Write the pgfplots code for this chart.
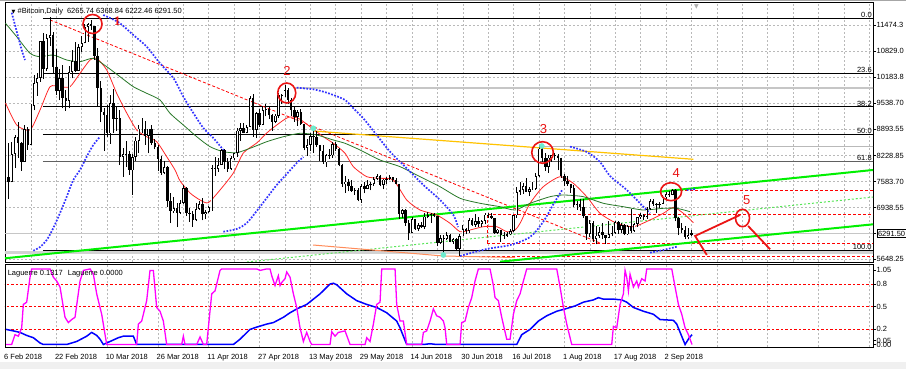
\documentclass[border=0pt]{standalone}
\usepackage{fontspec}
\setmainfont{Liberation Sans}
\newfontfamily\dejavu{DejaVu Sans}
\newfontfamily\serifnum{Liberation Serif}
\usepackage{pgfplots}
\usepackage{pgfplotstable}
\pgfplotsset{compat=1.18}

\definecolor{sarblue}{RGB}{50,50,255}
\definecolor{maRed}{RGB}{255,40,40}
\definecolor{maGreen}{RGB}{40,120,40}
\definecolor{limeg}{RGB}{0,240,0}
\definecolor{ltgreen}{RGB}{90,230,90}
\definecolor{goldl}{RGB}{255,195,0}
\definecolor{salmonl}{RGB}{255,140,90}
\definecolor{tealdot}{RGB}{110,235,205}
\definecolor{mag}{RGB}{255,0,255}
\definecolor{gridgray}{RGB}{185,185,185}
\definecolor{annred}{RGB}{235,20,20}

\pgfplotstableread{
d o h l c
1 7700 8550 7150 7580
2 7580 8560 7560 8260
3 8260 8740 7930 8690
4 8690 9070 8170 8550
5 8550 8560 7850 8070
6 8070 8990 8070 8890
7 8890 8930 8370 8500
8 8500 9500 8500 9470
9 9470 10230 9350 10030
10 10030 10290 9720 10160
11 10160 11080 10060 11080
12 11080 11280 10130 10380
13 10380 11250 10330 11150
14 11150 11680 10950 11220
15 11220 11300 10250 10440
16 10440 10880 9740 9830
17 9830 10380 9600 10160
18 10160 10490 9400 9670
19 9670 9850 9340 9590
20 9590 10450 9400 10310
21 10310 10860 10150 10570
22 10570 11050 10300 10330
23 10330 11000 10330 10920
24 10920 11200 10800 11020
25 11020 11500 11020 11430
26 11430 11520 11060 11500
27 11500 11600 11360 11450
28 11450 11450 10600 10710
29 10710 10900 9450 9900
30 9900 10080 9060 9300
31 9300 9420 8350 9230
32 9230 9480 8700 8780
33 8780 9730 8520 9530
34 9530 9890 8800 9140
35 9140 9470 8850 9150
36 9150 9370 8000 8200
37 8200 8420 7700 8260
38 8260 8600 7950 8270
39 8270 8340 7750 7860
40 7860 8270 7250 8200
41 8200 8700 8100 8600
42 8600 9000 8300 8900
43 8900 9150 8780 8900
44 8900 9080 8500 8720
45 8720 8900 8280 8900
46 8900 9000 8500 8550
47 8550 8650 8380 8450
48 8450 8500 7850 8140
49 8140 8220 7750 7790
50 7790 8100 7760 7940
51 7940 7970 6950 7090
52 7090 7300 6550 6840
53 6840 7200 6800 6930
54 6930 7050 6450 6810
55 6810 7120 6770 7050
56 7050 7500 7020 7420
57 7420 7440 6720 6790
58 6790 6920 6580 6780
59 6780 6860 6460 6620
60 6620 7050 6600 6900
61 6900 7100 6880 7020
62 7020 7180 6620 6770
63 6770 6880 6650 6830
64 6830 6980 6800 6940
65 6940 8000 6860 7920
66 7920 8200 7730 7890
67 7890 8170 7830 8000
68 8000 8400 8000 8360
69 8360 8400 7900 8060
70 8060 8180 7830 7890
71 7890 8220 7870 8160
72 8160 8300 8120 8290
73 8290 8920 8200 8850
74 8850 9040 8600 8920
75 8920 9030 8780 8800
76 8800 9000 8780 8940
77 8940 9720 8930 9650
78 9650 9750 8700 8870
79 8870 9300 8660 9280
80 9280 9380 8930 8990
81 8990 9430 8980 9350
82 9350 9500 9200 9390
83 9390 9450 9140 9240
84 9240 9250 8850 9070
85 9070 9250 9030 9220
86 9220 9780 9170 9740
87 9740 9760 9520 9700
88 9700 9990 9690 9860
89 9860 9920 9500 9620
90 9620 9650 9200 9370
91 9370 9470 9070 9190
92 9190 9370 8970 9300
93 9300 9380 9000 9010
94 9010 9020 8360 8420
95 8420 8640 8220 8490
96 8490 8800 8340 8710
97 8710 8880 8300 8680
98 8680 8840 8450 8480
99 8480 8490 8100 8340
100 8340 8480 8030 8060
101 8060 8270 7950 8240
102 8240 8380 8150 8230
103 8230 8560 8170 8520
104 8520 8560 8340 8390
105 8390 8410 7960 7990
106 7990 8020 7450 7510
107 7510 7720 7310 7580
108 7580 7640 7340 7460
109 7460 7620 7330 7350
110 7350 7410 7260 7370
111 7370 7430 7090 7130
112 7130 7530 7060 7470
113 7470 7560 7290 7400
114 7400 7610 7390 7490
115 7490 7580 7360 7520
116 7520 7690 7480 7640
117 7640 7760 7620 7720
118 7720 7750 7460 7500
119 7500 7650 7390 7630
120 7630 7700 7520 7650
121 7650 7740 7610 7690
122 7690 7700 7560 7620
123 7620 7680 7510 7530
124 7530 7530 6650 6770
125 6770 6900 6680 6880
126 6880 6900 6480 6550
127 6550 6620 6140 6300
128 6300 6700 6300 6640
129 6640 6650 6390 6400
130 6400 6540 6350 6500
131 6500 6580 6440 6450
132 6450 6800 6400 6710
133 6710 6830 6670 6740
134 6740 6800 6560 6770
135 6770 6790 6690 6720
136 6720 6730 5970 6060
137 6060 6250 6040 6180
138 6180 6260 5760 6150
139 6150 6340 6120 6250
140 6250 6280 6070 6090
141 6090 6180 6030 6160
142 6160 6170 5860 5900
143 5900 6290 5740 6220
144 6220 6500 6220 6400
145 6400 6440 6270 6360
146 6360 6680 6300 6620
147 6620 6680 6480 6510
148 6510 6780 6460 6600
149 6600 6690 6450 6530
150 6530 6630 6460 6600
151 6600 6800 6520 6760
152 6760 6800 6680 6720
153 6720 6800 6650 6670
154 6670 6680 6280 6310
155 6310 6400 6290 6390
156 6390 6390 6080 6250
157 6250 6340 6150 6240
158 6240 6320 6200 6270
159 6270 6400 6250 6360
160 6360 6750 6340 6740
161 6740 7450 6680 7330
162 7330 7570 7250 7370
163 7370 7550 7280 7470
164 7470 7680 7320 7330
165 7330 7450 7220 7400
166 7400 7560 7380 7400
167 7400 7800 7380 7720
168 7720 8480 7700 8400
169 8400 8480 8060 8170
170 8170 8300 7850 7940
171 7940 8250 7800 8180
172 8180 8240 8080 8230
173 8230 8290 8130 8220
174 8220 8260 7860 8180
175 8180 8180 7680 7730
176 7730 7760 7460 7600
177 7600 7720 7480 7530
178 7530 7530 7300 7420
179 7420 7490 6940 7010
180 7010 7090 6880 7030
181 7030 7160 6850 6940
182 6940 7150 6680 6720
183 6720 6720 6140 6280
184 6280 6630 6200 6550
185 6550 6590 6080 6150
186 6150 6480 6020 6240
187 6240 6460 6180 6320
188 6320 6550 6150 6250
189 6250 6250 6030 6190
190 6190 6600 6170 6270
191 6270 6480 6220 6310
192 6310 6600 6280 6580
193 6580 6610 6290 6390
194 6390 6550 6300 6490
195 6490 6530 6250 6270
196 6270 6500 6260 6480
197 6480 6900 6300 6360
198 6360 6560 6340 6530
199 6530 6710 6460 6690
200 6690 6810 6660 6740
201 6740 6780 6620 6700
202 6700 6940 6660 6900
203 6900 7140 6880 7100
204 7100 7140 6980 7030
205 7030 7060 6810 6990
206 6990 7080 6920 7030
207 7030 7260 7030 7190
208 7190 7330 7140 7270
209 7270 7340 7200 7260
210 7260 7400 7240 7370
211 7370 7400 6600 6680
212 6680 6700 6250 6420
213 6420 6540 6300 6380
214 6380 6470 6150 6200
215 6200 6440 6150 6250
216 6265.74 6368.84 6222.46 6291.50
}\candles

\pgfplotsset{
  every tick label/.append style={font=\fontsize{7.5}{9}\selectfont},
}

\begin{document}
\begin{tikzpicture}[x=1pt,y=1pt]
\fill[white] (0,0) rectangle (906,369);
\fill[gray!12] (0,0) rectangle (906,6.5);
\draw[gray!70, line width=0.9pt] (0,368.6) -- (906,368.6);

% ================= MAIN PRICE PANEL =================
\begin{axis}[
  at={(5pt,107pt)}, anchor=south west,
  scale only axis, width=868pt, height=259.5pt,
  xmin=-0.16, xmax=273.2, ymin=5582.5, ymax=12033.6,
  scaled y ticks=false, scaled x ticks=false,
  axis line style={black, line width=0.7pt},
  xtick={0,8,...,272}, xticklabels={}, xtick style={draw=none},
  ytick={5648.25,6293.4,6938.55,7583.7,8228.85,8893.55,9538.7,10183.8,10829.0,11474.3},
  yticklabels={5648.25,{},6938.55,7583.70,8228.85,8893.55,9538.70,10183.8,10829.0,11474.3},
  ytick pos=right, yticklabel pos=right,
  tick align=outside, major tick length=3pt,
  tick style={black, line width=0.6pt},
  yticklabel style={anchor=west, inner sep=0pt, xshift=0.5pt},
  xmajorgrids, ymajorgrids,
  grid style={gridgray, dash pattern=on 2pt off 2pt, line width=0.5pt},
  extra y ticks={6291.5}, extra y tick labels={6291.50},
  extra y tick style={grid=none, yticklabel style={draw=black, fill=white, inner sep=1.2pt, line width=0.6pt, font=\fontsize{7.5}{9}\selectfont}},
  /pgf/number format/assume math mode=true,
  clip=true,
]
% gray helper lines
\addplot[gray!45, line width=0.6pt] coordinates {(-1,6291.5) (274,6291.5)};
\addplot[gray!35, line width=3pt] coordinates {(-1,5818) (274,5818)};
\addplot[gray!45, line width=1.8pt] coordinates {(91.2,9916) (274,9916)};
\addplot[gray!55, line width=1pt] coordinates {(168.3,8449) (274,8449)};
% Fibonacci levels
\addplot[black, line width=0.8pt] coordinates {(11.8,11641) (274,11641)};
\addplot[black, line width=0.8pt] coordinates {(11.8,10282) (274,10282)};
\addplot[black, line width=0.8pt] coordinates {(11.8,9441) (274,9441)};
\addplot[black, line width=0.8pt] coordinates {(11.8,8761) (274,8761)};
\addplot[gray!75!black, line width=0.9pt] coordinates {(11.8,8081) (274,8081)};
\addplot[black, line width=0.8pt] coordinates {(11.8,5881) (274,5881)};
\node[anchor=south east, inner sep=0.5pt, font=\fontsize{7.5}{9}\selectfont] at (axis cs:273,11641) {0.0};
\node[anchor=south east, inner sep=0.5pt, font=\fontsize{7.5}{9}\selectfont] at (axis cs:273,10282) {23.6};
\node[anchor=south east, inner sep=0.5pt, font=\fontsize{7.5}{9}\selectfont] at (axis cs:273,9441) {38.2};
\node[anchor=south east, inner sep=0.5pt, font=\fontsize{7.5}{9}\selectfont] at (axis cs:273,8761) {50.0};
\node[anchor=south east, inner sep=0.5pt, font=\fontsize{7.5}{9}\selectfont] at (axis cs:273,8081) {61.8};
\node[anchor=south east, inner sep=0.5pt, font=\fontsize{7.5}{9}\selectfont] at (axis cs:273,5881) {100.0};
% red dashed levels
\addplot[red, line width=0.8pt, dash pattern=on 3pt off 2pt] coordinates {(212.4,7372) (274,7372)};
\addplot[red, line width=0.8pt, dash pattern=on 3pt off 2pt] coordinates {(151.65,6047) (151.65,6768) (274,6768)};
\addplot[red, line width=0.8pt, dash pattern=on 3pt off 2pt] coordinates {(151.65,6047) (274,6047)};
\addplot[red, line width=0.8pt, dash pattern=on 3pt off 2pt] coordinates {(145.4,5724) (274,5724)};
\addplot[red, line width=0.8pt, dash pattern=on 3pt off 2pt] coordinates {(14.02,11599) (187.24,6055)};
% trend lines
\addplot[ltgreen, line width=1pt, dash pattern=on 2pt off 2pt] coordinates {(76.06,5582) (273.2,7198)};
\addplot[limeg, line width=2pt] coordinates {(-0.16,5675) (273.2,7870)};
\addplot[limeg, line width=2pt] coordinates {(155.75,5590) (273.2,6519)};
\addplot[goldl, line width=1.2pt] coordinates {(96.94,8839) (216.63,8136)};
\addplot[salmonl, line width=1pt] coordinates {(96.85,6005) (137.8,5732) (160.5,5694)};
% moving averages
\addplot[maRed, line width=0.8pt, smooth, tension=0.4] coordinates {
(0,9535) (3.53,8988) (7.72,8864) (10.87,9361) (14.02,9940) (17.17,9940) (20.31,9940) (23.46,10274) (26.61,10604) (28.72,10646) (31.87,10356) (35.02,9776) (38.17,9287) (41.32,8864) (44.47,8697) (47.62,8573) (50.77,8200) (53.39,7870) (54.96,7600) (58.11,7298) (61.26,7124) (63.87,7057) (67.56,7372) (71.75,7795) (74.90,8292) (79.12,8541) (82.27,8789) (85.42,8988) (89.07,9180) (92.22,9155) (95.91,8946) (100.09,8697) (103.24,8533) (106.93,8285) (109.54,7952) (113.76,7703) (117.95,7663) (122.14,7621) (126.36,7124) (130.55,6875) (135.81,6751) (140.0,6545) (143.15,6336) (146.30,6378) (150.49,6460) (154.71,6460) (157.86,6336) (160.47,6378) (162.05,6545) (165.20,7042) (169.39,7455) (174.65,7703) (178.83,7538) (183.05,7206) (187.24,6793) (192.50,6545) (197.73,6460) (202.99,6627) (207.18,6793) (210.33,6942) (213.48,6793) (216.63,6560)};
\addplot[maGreen, line width=0.8pt, smooth, tension=0.4] coordinates {
(0,11517) (3.53,11183) (7.72,10771) (10.87,10686) (15.06,10728) (19.28,10604) (23.46,10562) (27.65,10646) (31.87,10438) (36.06,10189) (40.25,9940) (44.47,9776) (48.66,9610) (51.81,9279) (56.0,8988) (60.22,8697) (64.41,8449) (68.60,8325) (72.82,8300) (77.01,8409) (82.27,8573) (87.50,8697) (92.76,8782) (98.02,8740) (103.24,8615) (106.93,8533) (111.65,8367) (117.95,8118) (124.25,7952) (130.55,7703) (136.85,7454) (143.15,7166) (149.45,7042) (155.75,6957) (160.47,6875) (165.20,7042) (171.50,7206) (175.69,7248) (181.98,7206) (188.28,7042) (194.58,6957) (200.88,6875) (207.18,6917) (211.39,6917) (215.59,6833)};
% parabolic dotted indicator
\pgfplotsset{sar/.style={sarblue, line width=1.7pt, dash pattern=on 1.7pt off 1.5pt, smooth, tension=0.5}}
\addplot[sar] coordinates {(1.95,11780) (2.99,11474) (5.1,10853) (6.14,10604)};
\addplot[sar] coordinates {(8.76,5863) (10.87,5955) (12.98,6129) (15.06,6428) (17.17,6801) (19.28,7206) (21.35,7621) (23.46,7870) (25.57,8200) (27.65,8491) (29.76,8697)};
\addplot[sar] coordinates {(30.8,11723) (32.9,11648) (36.06,11517) (40.25,11226) (44.47,10935) (48.66,10522) (52.85,10157) (56.0,9692) (59.15,9287) (62.3,8914) (65.45,8665) (68.6,8367)};
\addplot[sar] coordinates {(68.6,6336) (72.82,6403) (75.97,6552) (79.12,6851) (82.27,7174) (85.42,7497) (88.57,7770) (91.72,8044) (93.8,8193)};
\addplot[sar] coordinates {(91.72,9917) (93.82,9900) (96.98,9875) (100.13,9816) (103.24,9734) (106.93,9610) (109.54,9403) (112.69,9154) (116.88,8740) (121.1,8325) (126.36,7911) (131.6,7497) (136.85,7124) (141.04,6751) (142.5,6450)};
\addplot[sar] coordinates {(143.15,5732) (151.56,5906) (158.9,6005) (165.2,6204) (169.3,6577) (172.4,7000) (175.3,7372)};
\addplot[sar] coordinates {(177.8,8449) (183.05,8317) (187.24,8068) (190.39,7720) (195.65,7372) (200.88,6957) (203.0,6793)};
\addplot[sar] coordinates {(203.0,5814) (207.18,5881) (211.39,5963)};
\addplot[sar] coordinates {(214.55,7372) (217.2,7397)};
% candles: wicks
\addplot[black, line width=0.8pt, mark=none, quiver={u=0, v=\thisrow{h}-\thisrow{l}}] table[x=d, y=l] {\candles};
% candles: bodies
\addplot[black, line width=2.4pt, mark=none, quiver={u=0, v=\thisrow{c}-\thisrow{o}}] table[x=d, y=o] {\candles};
\addplot[white, line width=0.9pt, mark=none, restrict expr to domain={\thisrow{c}-\thisrow{o}}{45:100000},
  quiver={u=0, v=\thisrow{c}-\thisrow{o}, every arrow/.append style={shorten >=0.8pt, shorten <=0.8pt}}] table[x=d, y=o] {\candles};
% pivot dots
\addplot[only marks, mark=*, mark size=2.6pt, color=tealdot] coordinates {(96.95,8906) (137.9,5757) (168.9,8466)};
% annotations
\draw[annred, line width=1.6pt] (axis cs:27.4,11499) ellipse [x radius=9.5pt, y radius=9.5pt];
\draw[annred, line width=1.6pt] (axis cs:88.57,9784) ellipse [x radius=9pt, y radius=10pt];
\draw[annred, line width=1.6pt] (axis cs:169.13,8305) ellipse [x radius=10.8pt, y radius=10.8pt];
\draw[annred, line width=1.6pt] (axis cs:209.6,7330) ellipse [x radius=10.5pt, y radius=9pt];
\draw[annred, line width=1.6pt] (axis cs:232.1,6676) ellipse [x radius=7pt, y radius=8.7pt];
\draw[annred, line width=1.8pt] (axis cs:220.86,5757) -- (axis cs:217.17,6230) -- (axis cs:231.35,6752);
\draw[annred, line width=1.8pt] (axis cs:233.86,6478) -- (axis cs:240.8,5898);
\node[text=annred, font=\serifnum\bfseries\fontsize{13}{13}\selectfont] at (axis cs:35.2,11556) {1};
\node[text=annred, font=\fontsize{13}{13}\selectfont] at (axis cs:88.66,10331) {2};
\node[text=annred, font=\fontsize{13}{13}\selectfont] at (axis cs:169.4,8881) {3};
\node[text=annred, font=\fontsize{13}{13}\selectfont] at (axis cs:211.2,7788) {4};
\node[text=annred, font=\fontsize{13}{13}\selectfont] at (axis cs:233.4,7124) {5};
% title
\node[anchor=west, inner sep=0pt, font=\fontsize{7.5}{9}\selectfont] at (axis cs:1.9,11820) {{\dejavu\fontsize{5}{6}\selectfont ▼}\hspace{2pt}\#Bitcoin,Daily\hspace{4pt}6265.74 6368.84 6222.46 6291.50};
% chart-shift marker
\node[inner sep=0pt, text=gray!65, font=\dejavu\fontsize{6}{6}\selectfont] at (axis cs:217.6,11930) {▼};
\end{axis}

% ================= LAGUERRE PANEL =================
\begin{axis}[
  at={(5pt,21.7pt)}, anchor=south west,
  scale only axis, width=868pt, height=83.3pt,
  xmin=-0.16, xmax=273.2, ymin=-0.037, ymax=1.065,
  scaled y ticks=false, scaled x ticks=false,
  axis line style={black, line width=0.7pt},
  xtick={0,16,...,272},
  xticklabels={6 Feb 2018,22 Feb 2018,10 Mar 2018,26 Mar 2018,11 Apr 2018,27 Apr 2018,13 May 2018,29 May 2018,14 Jun 2018,30 Jun 2018,16 Jul 2018,1 Aug 2018,17 Aug 2018,2 Sep 2018,{},{},{},{}},
  xtick style={draw=none},
  xticklabel style={anchor=north west, inner sep=0pt, xshift=-1.5pt, yshift=-4pt},
  ytick={0,0.05,0.2,0.5,0.8,0.985},
  yticklabels={0.00,0.05,0.2,0.5,0.8,1.05},
  ytick pos=right, yticklabel pos=right,
  tick align=outside, major tick length=3pt,
  ytick style={black, line width=0.6pt},
  yticklabel style={anchor=west, inner sep=0pt, xshift=0.5pt},
  xmajorgrids,
  grid style={gridgray, dash pattern=on 2pt off 2pt, line width=0.5pt},
  /pgf/number format/assume math mode=true,
  clip=true,
]
\addplot[red, line width=0.8pt, dash pattern=on 2.5pt off 2pt] coordinates {(-1,0.8) (274,0.8)};
\addplot[red, line width=0.8pt, dash pattern=on 2.5pt off 2pt] coordinates {(-1,0.5) (274,0.5)};
\addplot[red, line width=0.8pt, dash pattern=on 2.5pt off 2pt] coordinates {(-1,0.2) (274,0.2)};
\addplot[blue, line width=1.5pt] coordinates {
(0.16,0.20) (2.47,0.18) (4.57,0.16) (6.67,0.12) (8.77,0.09) (10.87,0.02) (11.92,0) (19.27,0) (22.42,0.04) (25.57,0.11) (27.14,0.16) (28.72,0.12) (29.77,0.07) (30.82,0) (32.92,0.04) (35.54,0.09) (37.11,0.11) (40.26,0.11) (41.31,0) (71.76,0) (73.86,0.07) (77.01,0.20) (79.11,0.23) (82.26,0.27) (84.36,0.29) (87.51,0.36) (89.61,0.42) (91.71,0.47) (94.86,0.53) (99.06,0.67) (102.21,0.80) (103.26,0.81) (104.31,0.79) (107.46,0.67) (110.61,0.58) (113.75,0.53) (116.90,0.49) (120.05,0.42) (123.20,0.31) (124.25,0.22) (126.35,0) (131.60,0) (133.70,0.01) (135.80,0) (161.00,0) (162.57,0.13) (165.20,0.20) (167.82,0.31) (170.45,0.38) (173.60,0.44) (176.22,0.47) (179.37,0.51) (182.00,0.56) (185.15,0.59) (186.72,0.62) (188.29,0.60) (191.44,0.60) (194.07,0.59) (195.64,0.56) (197.74,0.49) (200.89,0.44) (204.04,0.40) (206.14,0.33) (210.34,0.32) (211.39,0.27) (214.02,0) (215.2,0.08) (216.2,0.13)};
\addplot[mag, line width=1.3pt] coordinates {
(0.16,0) (1.94,0) (2.99,0.13) (4.04,0.11) (5.09,0.22) (5.62,0.53) (6.67,0.56) (7.72,0.89) (8.24,1) (14.02,1) (15.07,0.89) (16.12,0.84) (17.17,0.76) (18.74,0.36) (19.79,0.29) (20.84,0.33) (21.89,0.36) (23.47,0.84) (24.52,0.98) (26.62,1) (27.67,0.93) (28.72,0.67) (30.29,0.40) (31.87,0) (41.31,0) (41.84,0.27) (42.89,0.31) (44.46,0.58) (45.51,0.98) (46.56,0.98) (47.61,0.49) (48.66,0.44) (49.71,0.31) (50.76,0) (55.49,0) (56.01,0.11) (56.54,0) (60.21,0) (61.26,0.10) (62.31,0) (63.36,0) (64.94,0.67) (65.99,0.71) (67.56,0.98) (68.09,1) (79.11,1) (80.16,0.98) (82.26,1) (83.31,1) (83.84,0.91) (84.88,0.78) (85.93,0.91) (86.46,0.78) (86.98,0.82) (88.03,0.87) (88.56,0.96) (89.61,0.89) (90.66,0.67) (91.71,0.49) (92.76,0.22) (93.81,0.04) (94.86,0.16) (95.91,0.04) (96.43,0) (102.21,0) (102.73,0.17) (103.78,0.11) (104.83,0.16) (106.93,0.18) (108.51,0) (113.23,0) (113.75,0.09) (114.80,0.04) (115.85,0.27) (116.90,0.53) (117.95,0.56) (118.48,1) (122.68,1) (123.20,0.53) (124.25,0.31) (125.30,0.31) (126.35,0) (131.08,0) (131.60,0.16) (132.65,0.18) (133.70,0.31) (134.75,0.47) (135.80,0.38) (136.85,0.36) (137.90,0.31) (138.43,0.22) (138.95,0) (143.15,0) (143.67,0.29) (144.72,0.31) (145.77,0.49) (146.82,0.62) (147.87,0.84) (148.92,1) (152.60,1) (153.65,0.78) (154.17,0.62) (155.22,0.58) (156.27,0.36) (157.85,0.07) (158.90,0.07) (159.95,0.40) (161.00,0.58) (162.05,0.67) (163.10,0.84) (164.15,1) (173.60,1) (174.65,0.76) (175.70,0.49) (176.75,0.27) (178.32,0) (190.92,0) (191.44,0.24) (192.49,0.22) (193.54,0.53) (194.59,0.67) (195.12,0.98) (195.64,0.89) (196.17,0.71) (196.69,0.93) (197.74,0.76) (198.79,0.84) (199.32,0.76) (200.37,0.87) (201.42,0.84) (201.94,1) (209.82,1) (210.87,0.76) (211.92,0.53) (212.97,0.40) (214.02,0.22) (215.07,0.13) (215.59,0.07) (216.2,0)};
\node[anchor=north west, inner sep=0pt, font=\fontsize{7.5}{9}\selectfont] at (axis description cs:0.003,0.93) {Laguerre 0.1317\hspace{5pt}Laguerre 0.0000};
\end{axis}
\pgfresetboundingbox
\useasboundingbox (0,0) rectangle (906,369);
\end{tikzpicture}
\end{document}
